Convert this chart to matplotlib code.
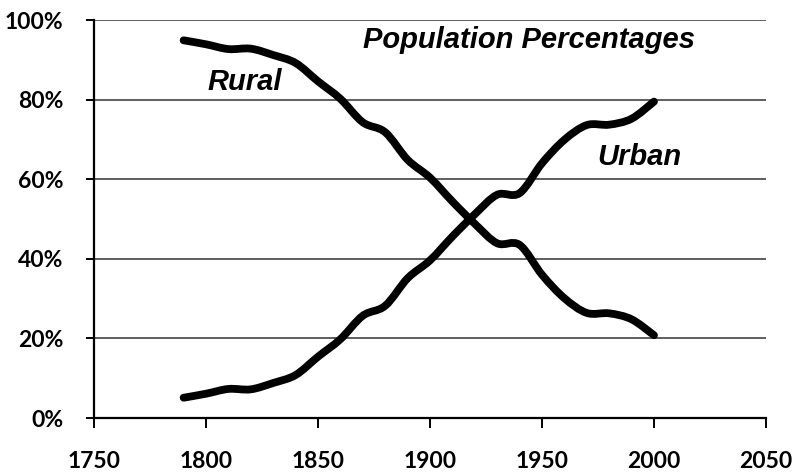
import matplotlib.pyplot as plt
from matplotlib.path import Path
from matplotlib.patches import PathPatch
from matplotlib.ticker import PercentFormatter

# census years and urban / rural share (%)
years = [1790, 1800, 1810, 1820, 1830, 1840, 1850, 1860, 1870, 1880, 1890,
         1900, 1910, 1920, 1930, 1940, 1950, 1960, 1970, 1980, 1990, 2000]
urban = [5.1, 6.1, 7.3, 7.2, 8.8, 10.8, 15.4, 19.8, 25.7, 28.2, 35.1,
         39.6, 45.6, 51.2, 56.1, 56.5, 64.0, 69.9, 73.6, 73.7, 75.2, 79.5]
rural = [94.9, 93.9, 92.7, 92.8, 91.2, 89.2, 84.6, 80.2, 74.3, 71.8, 64.9,
         60.4, 54.4, 48.8, 43.9, 43.5, 36.0, 30.1, 26.4, 26.3, 24.8, 20.8]


def smooth_line(ax, xs, ys):
    # excel-style smoothed line: bezier through the points
    verts = [(xs[0], ys[0])]
    codes = [Path.MOVETO]
    n = len(xs)
    for i in range(n - 1):
        x0, y0 = xs[max(i - 1, 0)], ys[max(i - 1, 0)]
        x1, y1 = xs[i], ys[i]
        x2, y2 = xs[i + 1], ys[i + 1]
        x3, y3 = xs[min(i + 2, n - 1)], ys[min(i + 2, n - 1)]
        c1 = (x1 + (x2 - x0) / 6, y1 + (y2 - y0) / 6)
        c2 = (x2 - (x3 - x1) / 6, y2 - (y3 - y1) / 6)
        verts += [c1, c2, (x2, y2)]
        codes += [Path.CURVE4] * 3
    p = PathPatch(Path(verts, codes), fill=False, edgecolor='black', lw=5.6,
                  capstyle='round', joinstyle='round')
    ax.add_patch(p)


fig = plt.figure(figsize=(7.94, 4.72), dpi=100)
ax = fig.add_axes([0.1184, 0.1144, 0.8463, 0.8432])

smooth_line(ax, years, rural)
smooth_line(ax, years, urban)

ax.set_xlim(1750, 2050)
ax.set_ylim(0, 100)
ax.set_xticks(range(1750, 2051, 50))
ax.set_yticks(range(0, 101, 20))
ax.yaxis.set_major_formatter(PercentFormatter(decimals=0))

ax.grid(axis='y', color='#333333', lw=1.1)
ax.set_axisbelow(True)
for s in ['top', 'right']:
    ax.spines[s].set_visible(False)
ax.spines['left'].set_linewidth(1.6)
ax.spines['bottom'].set_linewidth(1.6)

ax.tick_params(axis='y', length=6, width=1.4, pad=16)
ax.tick_params(axis='x', length=7, width=1.4, pad=17)
for lab in ax.get_xticklabels() + ax.get_yticklabels():
    lab.set_fontfamily('Lato')
    lab.set_fontweight('bold')
    lab.set_fontsize(16.5)

txt = dict(family='Liberation Sans', weight='bold', style='italic', color='black')
ax.text(1870, 95, 'Population Percentages', fontsize=21, va='center', **txt)
ax.text(1800.5, 84.5, 'Rural', fontsize=21, va='center', **txt)
ax.text(1974.5, 65.5, 'Urban', fontsize=21, va='center', **txt)

fig.savefig('out.png', dpi=100)
